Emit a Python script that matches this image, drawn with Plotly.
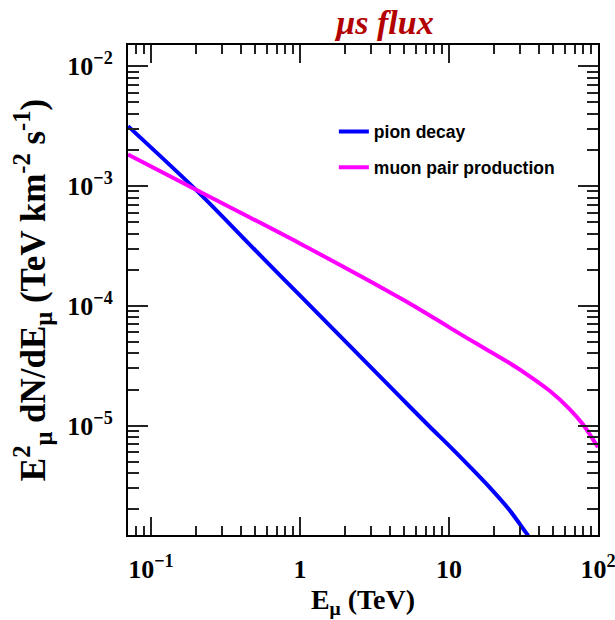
import numpy as np
import plotly.graph_objects as go

# Muon energy (TeV) and E^2 dN/dE (TeV km^-2 s^-1) for the two production channels
pion_energy = [0.0702, 0.204, 0.5, 1.0, 4.67, 7.41, 10.1, 13.7, 18.7, 25.5, 33.0, 34.1]
pion_flux = [3.16e-3, 9.1e-4, 2.92e-4, 1.22e-4, 1.75e-5, 9.82e-6, 6.73e-6, 4.58e-6,
             3.06e-6, 1.97e-6, 1.27e-6, 1.20e-6]

pair_energy = [0.0702, 0.204, 1.0, 5.0, 13.7, 18.7, 25.5, 34.7, 47.2, 64.3, 79.0, 100.0]
pair_flux = [1.83e-3, 9.2e-4, 3.31e-4, 1.11e-4, 5.24e-5, 4.18e-5, 3.33e-5, 2.59e-5,
             1.96e-5, 1.38e-5, 1.03e-5, 6.59e-6]

x_tickvals = [0.1, 1, 10, 100]
x_ticktext = ["10<sup>\u22121</sup>", "1", "10", "10<sup>2</sup>"]
y_tickvals = [1e-5, 1e-4, 1e-3, 1e-2]
y_ticktext = ["10<sup>\u22125</sup>", "10<sup>\u22124</sup>", "10<sup>\u22123</sup>", "10<sup>\u22122</sup>"]

x_range = [np.log10(0.0702), 2.0005]
y_range = [np.log10(1.22e-6), np.log10(0.01503)]


def minor_vals(lo, hi):
    vals = []
    for d in range(int(np.floor(lo)) - 1, int(np.ceil(hi)) + 1):
        for m in range(2, 10):
            v = m * 10.0 ** d
            if lo <= np.log10(v) <= hi:
                vals.append(v)
    return vals


serif = "Liberation Serif"
sans = "Liberation Sans"

fig = go.Figure()
fig.add_trace(go.Scatter(
    x=pion_energy, y=pion_flux, mode="lines", name="pion decay",
    line=dict(color="#0000ff", width=4, shape="spline", smoothing=0.8),
    legendgroup="a",
))
fig.add_trace(go.Scatter(
    x=pair_energy, y=pair_flux, mode="lines", name="muon pair production",
    line=dict(color="#ff00ff", width=4, shape="spline", smoothing=0.8),
    legendgroup="b",
))

axis_common = dict(
    type="log",
    showgrid=False,
    zeroline=False,
    showline=True,
    linecolor="black",
    linewidth=2,
    mirror="allticks",
    ticks="inside",
    tickcolor="#222222",
    tickwidth=1.5,
    ticklabeloverflow="allow",
    tickfont=dict(family=serif, size=26, color="black", weight="bold"),
)

fig.update_xaxes(
    **axis_common,
    range=x_range,
    tickvals=x_tickvals,
    ticktext=x_ticktext,
    ticklen=18,
    ticklabelstandoff=10,
    minor=dict(tickvals=minor_vals(*x_range), ticks="inside", ticklen=9,
               tickcolor="#222222", tickwidth=1.5, showgrid=False),
    title=dict(text="E<sub>\u03bc</sub> (TeV)",
               font=dict(family=serif, size=28, color="black", weight="bold"),
               standoff=6),
)
fig.update_yaxes(
    **axis_common,
    range=y_range,
    tickvals=y_tickvals,
    ticktext=y_ticktext,
    ticklen=20,
    ticklabelstandoff=8,
    minor=dict(tickvals=minor_vals(*y_range), ticks="inside", ticklen=11,
               tickcolor="#222222", tickwidth=1.5, showgrid=False),
    title=dict(text="E<sup>2</sup><sub>\u03bc</sub> dN/dE<sub>\u03bc</sub> (TeV km<sup>-2</sup> s<sup>-1</sup>)",
               font=dict(family=serif, size=35, color="black", weight="bold"),
               standoff=11),
)

fig.update_layout(
    width=615,
    height=620,
    margin=dict(l=128, r=16.5, t=45, b=85, autoexpand=False),
    paper_bgcolor="white",
    plot_bgcolor="white",
    title=dict(
        text="\u03bcs flux",
        font=dict(family=serif, size=34, color="#b30000", weight="bold", style="italic"),
        x=385 / 615, xref="container", xanchor="center",
        y=1 - 22 / 620, yref="container", yanchor="middle",
    ),
    showlegend=True,
    legend=dict(
        x=0.438, y=0.86, xanchor="left", yanchor="top",
        bgcolor="rgba(0,0,0,0)",
        font=dict(family=sans, size=17.5, color="black", weight="bold"),
        traceorder="grouped",
        tracegroupgap=10,
    ),
)

fig.write_html("out.html")
